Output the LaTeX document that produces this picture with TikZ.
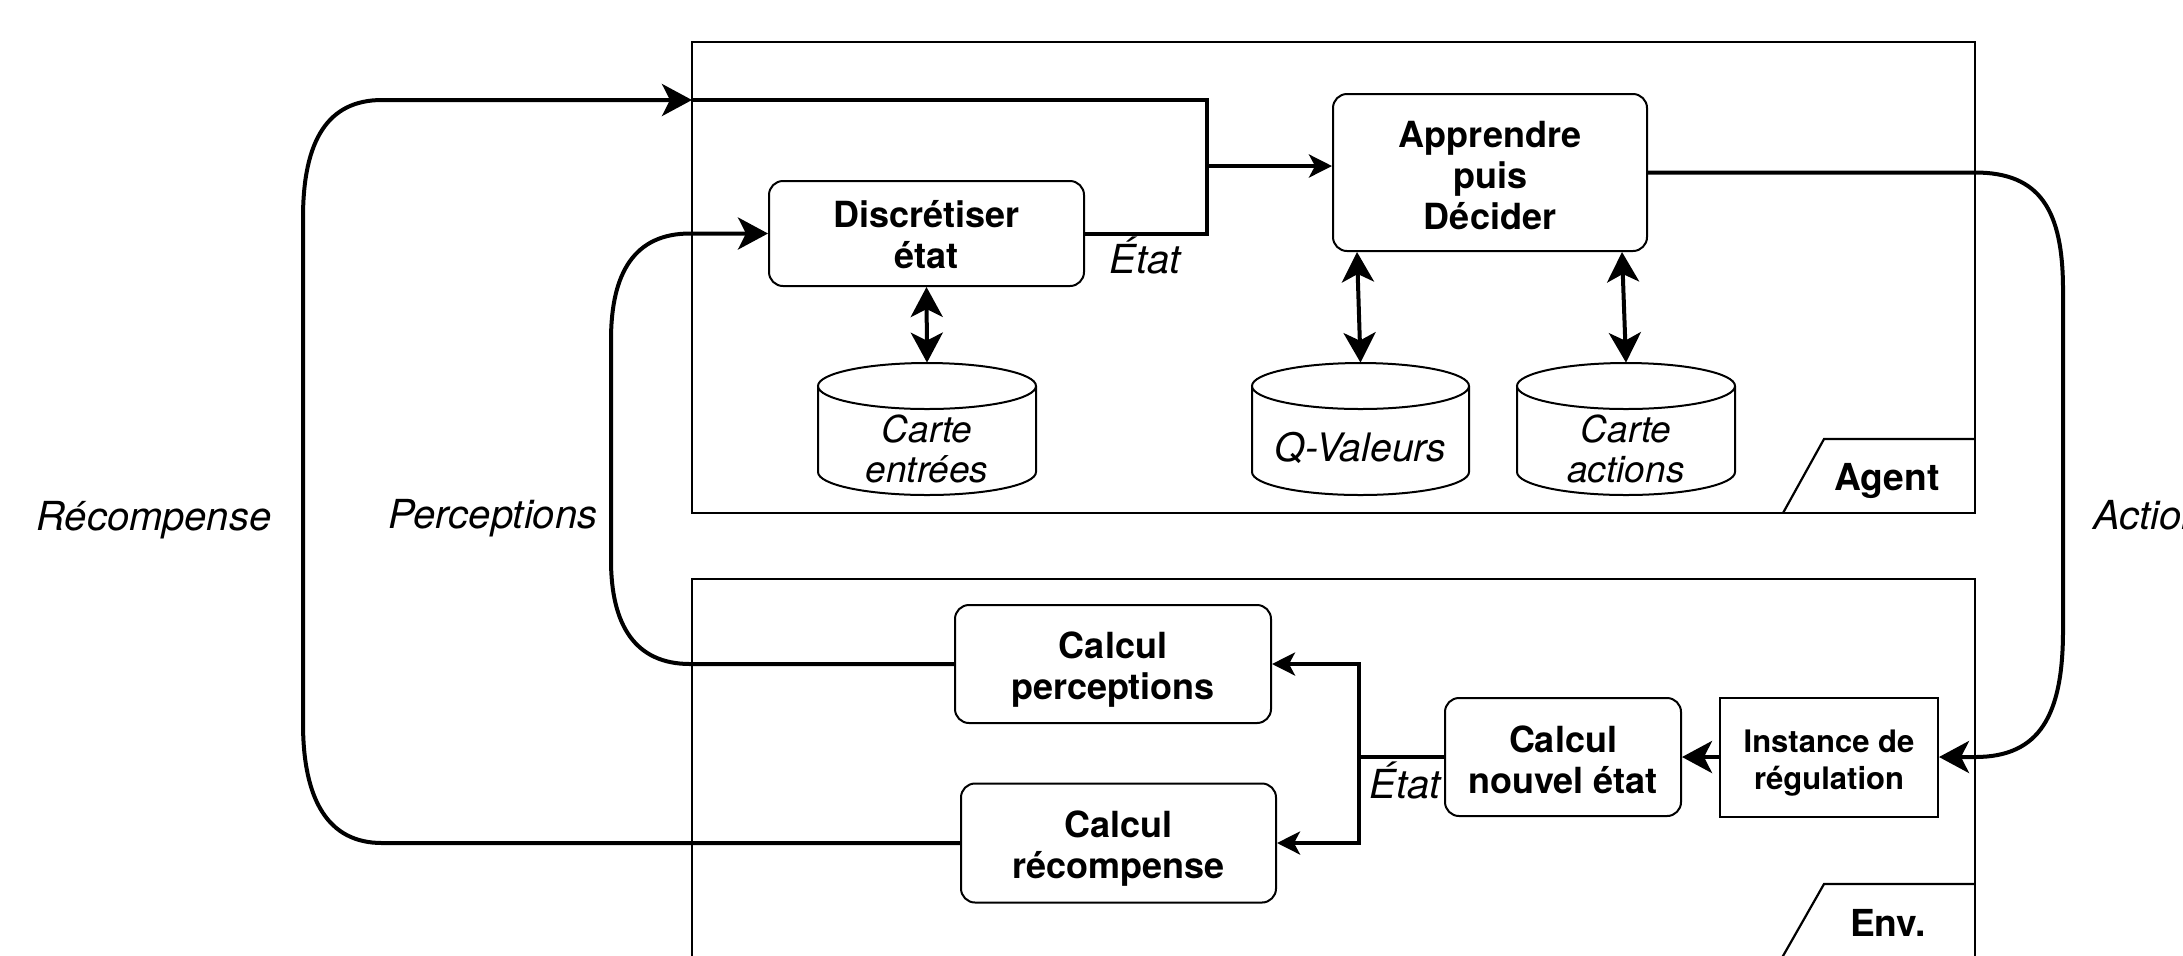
\documentclass[tikz,border=0pt]{standalone}
\usepackage{fontspec}
\setmainfont{TeX Gyre Heros}
\usetikzlibrary{arrows.meta}
\newcommand\bxfont{\fontsize{18}{20.5}\selectfont\bfseries}
\newcommand\tbfont{\fontsize{18.6}{21}\selectfont\bfseries}
\newcommand\smfont{\fontsize{15.5}{18.5}\selectfont\bfseries}
\newcommand\cyfont{\fontsize{18.5}{20}\selectfont\itshape}
\newcommand\qvfont{\fontsize{19.6}{21}\selectfont\itshape}
\newcommand\lbfont{\fontsize{20}{22}\selectfont\itshape}
\tikzset{
  BigTip/.tip={Stealth[length=15pt,width=16pt,inset=4pt]},
  SmallTip/.tip={Stealth[length=11.5pt,width=11.5pt,inset=3pt]},
  conn/.style={line width=2pt},
  frame/.style={line width=1.1pt},
  rbox/.style={draw, line width=1pt, rounded corners=7pt, inner sep=0pt, fill=white},
  sbox/.style={draw, line width=1pt, inner sep=0pt, fill=white},
  bxtxt/.style={inner sep=0pt, align=center, font=\bxfont},
  smtxt/.style={inner sep=0pt, align=center, font=\smfont},
  cylarea/.style={draw=none, inner sep=0pt, minimum width=109pt, minimum height=66pt},
  cyltxt/.style={inner sep=0pt, align=center, font=\cyfont},
  cylline/.style={line width=1pt, fill=white},
  lbl/.style={inner sep=0pt, font=\lbfont},
  tablbl/.style={inner sep=0pt, font=\tbfont}
}
% cylinder: x0 x1 y0 y1 (px), half width in pt
\newcommand\cyl[5]{%
  \draw[cylline] (#1,#3+23) -- (#1,#4-23) arc[start angle=180, end angle=360, x radius=#5pt, y radius=11.5pt] -- (#2,#3+23);
  \draw[cylline] ({(#1+#2)/2},#3+23) ellipse[x radius=#5pt, y radius=11.5pt];
}
\begin{document}
\begin{tikzpicture}[x=0.5pt,y=-0.5pt]
\useasboundingbox (0,0) rectangle (2183,955);
\clip (0,0) rectangle (2183,955);

% frames
\draw[frame] (692,42) rectangle (1975,513);
\draw[frame] (1975,439) -- (1824,439) -- (1783,513);
\node[tablbl] (agentlbl) at (1887,481) {Agent};
\draw[frame] (692,970) -- (692,579) -- (1975,579) -- (1975,970);
\draw[frame] (1975,884) -- (1824,884) -- (1775,970);
\node[tablbl] (envlbl) at (1888,923) {Env.};

% boxes
\node[rbox, minimum width=157.5pt, minimum height=52.5pt] (disc) at (926.5,233.5) {};
\node[bxtxt] (disct) at (926.5,235) {Discrétiser\\état};
\node[rbox, minimum width=157pt, minimum height=78.5pt] (app) at (1490,172.5) {};
\node[bxtxt] (appt) at (1490,175.5) {Apprendre\\puis\\Décider};
\node[rbox, minimum width=158pt, minimum height=59pt] (perc) at (1113,664) {};
\node[bxtxt] (perct) at (1113,670) {Calcul\\perceptions};
\node[rbox, minimum width=157.5pt, minimum height=59.5pt] (rec) at (1118.5,843) {};
\node[bxtxt] (rect) at (1118.5,849) {Calcul\\récompense};
\node[rbox, minimum width=118pt, minimum height=59pt] (nouv) at (1563,757) {};
\node[bxtxt] (nouvt) at (1563,760) {Calcul\\nouvel état};
\node[sbox, minimum width=109pt, minimum height=59.5pt] (inst) at (1829,757) {};
\node[smtxt] (instt) at (1829,763) {Instance de\\régulation};

% cylinders
\cyl{818}{1036}{363}{495}{54.5}
\node[cylarea] (ce) at (927,429) {};
\node[cyltxt] (cet) at (927,449) {Carte\\entrées};
\cyl{1252}{1469}{363}{495}{54.25}
\node[cylarea] (qv) at (1360.5,429) {};
\node[cyltxt, font=\qvfont] (qvt) at (1360.5,448) {Q-Valeurs};
\cyl{1517}{1735}{363}{495}{54.5}
\node[cylarea] (ca) at (1626,429) {};
\node[cyltxt] (cat) at (1626,449) {Carte\\actions};

% double arrows
\draw[conn, BigTip-BigTip] (disc.south) -- (ce.north);
\draw[conn, BigTip-BigTip] ([xshift=-66.5pt]app.south) -- (qv.north);
\draw[conn, BigTip-BigTip] ([xshift=66pt]app.south) -- (ca.north);

% junctions
\coordinate (rin) at (692,100);
\coordinate (j1) at (1207,166);
\coordinate (j2) at (1359,757);

% recompense loop
\draw[conn,-BigTip] (rec.west) -- (382,843) .. controls (328,843) and (303,800) .. (303,723) -- (303,218) .. controls (303,140) and (328,100) .. (382,100) -- (rin);
\draw[conn] (rin) -- (1207,100) -- (1207,233.5) -- (disc.east);
\draw[conn,-SmallTip] (j1) -- (app.west |- j1);

% perceptions loop
\draw[conn,-BigTip] (perc.west) -- (690,664) .. controls (635,664) and (611,625) .. (611,560) -- (611,340) .. controls (611,272) and (635,233.5) .. (690,233.5) -- (disc.west);

% action loop
\draw[conn,-BigTip] (app.east) -- (1975,172.5) .. controls (2040,172.5) and (2063,210) .. (2063,290) -- (2063,630) .. controls (2063,715) and (2040,757) .. (1975,757) -- (inst.east);

% environment internals
\draw[conn,-BigTip] (inst.west) -- (nouv.east);
\draw[conn] (nouv.west) -- (j2);
\draw[conn,-SmallTip] (j2) |- (perc.east);
\draw[conn,-SmallTip] (j2) |- (rec.east);

% labels
\node[lbl] (l1) at (1145,255) {État};
\node[lbl] (l2) at (1405,780) {État};
\node[lbl] (lrec) at (154,520) {Récompense};
\node[lbl] (lper) at (493,518) {Perceptions};
\node[lbl, anchor=west] (lact) at (2093,515) {Action};
\end{tikzpicture}
\end{document}
